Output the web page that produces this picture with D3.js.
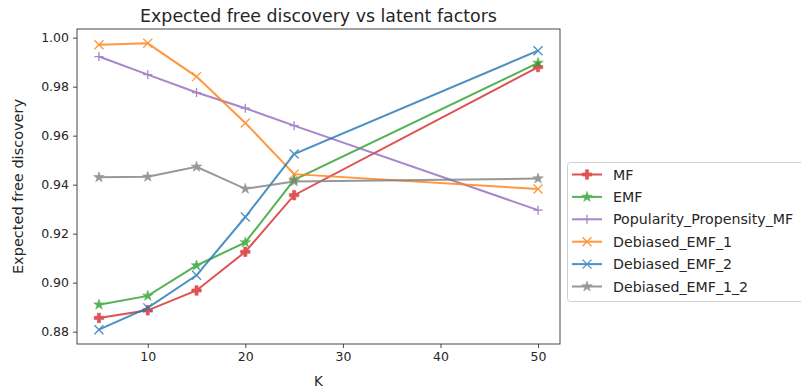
<!DOCTYPE html>
<html>
<head>
<meta charset="utf-8">
<script src="https://cdn.jsdelivr.net/npm/d3@7"></script>
<style>
  body { margin: 0; background: #fff; }
  svg { display: block; font-family: "DejaVu Sans", sans-serif; }
</style>
</head>
<body>
<svg id="chart" width="801" height="390"></svg>
<script>
// Latent factor counts
const kValues = [5, 10, 15, 20, 25, 50];

// Expected free discovery per model
const seriesNames = ["MF", "EMF", "Popularity_Propensity_MF", "Debiased_EMF_1", "Debiased_EMF_2", "Debiased_EMF_1_2"];
const mfValues = [0.8856, 0.8887, 0.8968, 0.9126, 0.9357, 0.9880];
const emfValues = [0.8910, 0.8946, 0.9070, 0.9164, 0.9420, 0.9897];
const popValues = [0.9923, 0.9849, 0.9776, 0.9712, 0.9641, 0.9296];
const deb1Values = [0.9971, 0.9977, 0.9841, 0.9652, 0.9443, 0.9382];
const deb2Values = [0.8808, 0.8897, 0.9030, 0.9268, 0.9525, 0.9947];
const deb12Values = [0.9430, 0.9432, 0.9473, 0.9383, 0.9413, 0.9425];

const yTicks = [0.88, 0.90, 0.92, 0.94, 0.96, 0.98, 1.00];
const xTicks = [10, 20, 30, 40, 50];

const colors = ["#d62728", "#2ca02c", "#9467bd", "#ff7f0e", "#1f77b4", "#7f7f7f"];
const markers = ["P", "star", "plus", "x", "x", "star"];
const allValues = [mfValues, emfValues, popValues, deb1Values, deb2Values, deb12Values];

const series = seriesNames.map((name, i) => ({
  name, color: colors[i], marker: markers[i],
  points: kValues.map((k, j) => ({ k, v: allValues[i][j] }))
}));

const svg = d3.select("#chart");
const plot = { left: 77, right: 560, top: 29, bottom: 344 };

// Axis limits padded by 5% of the data span on each side
const kMin = d3.min(kValues), kMax = d3.max(kValues);
const kPad = (kMax - kMin) * 0.05;
const vAll = allValues.flat();
const vMin = d3.min(vAll), vMax = d3.max(vAll);
const vPad = (vMax - vMin) * 0.05;

const x = d3.scaleLinear().domain([kMin - kPad, kMax + kPad]).range([plot.left, plot.right]);
const y = d3.scaleLinear().domain([vMin - vPad, vMax + vPad]).range([plot.bottom, plot.top]);

const textColor = "#262626";

// Axes
const xAxis = svg.append("g")
  .attr("transform", `translate(0,${plot.bottom})`)
  .call(d3.axisBottom(x).tickValues(xTicks).tickFormat(d3.format("d")).tickSize(4).tickPadding(4));
const yAxis = svg.append("g")
  .attr("transform", `translate(${plot.left},0)`)
  .call(d3.axisLeft(y).tickValues(yTicks).tickFormat(d3.format(".2f")).tickSize(4).tickPadding(4));
[xAxis, yAxis].forEach(g => {
  g.select(".domain").remove();
  g.selectAll("line").attr("stroke", "#333").attr("stroke-width", 0.9);
  g.selectAll("text").attr("fill", textColor).style("font-size", "12.5px").style("font-family", "DejaVu Sans");
});

// Lines
const line = d3.line().x(d => x(d.k)).y(d => y(d.v));
const clipId = "plot-clip";
svg.append("clipPath").attr("id", clipId).append("rect")
  .attr("x", plot.left).attr("y", plot.top)
  .attr("width", plot.right - plot.left).attr("height", plot.bottom - plot.top);

const layer = svg.append("g").attr("clip-path", `url(#${clipId})`);

function drawMarker(g, type, color, cx, cy, s) {
  const r = s / 2;
  if (type === "P") {
    g.append("path")
      .attr("d", d3.symbol().type(d3.symbolCross).size(s * s * 0.62)())
      .attr("transform", `translate(${cx},${cy})`)
      .attr("fill", color).attr("stroke", color).attr("stroke-width", 0.6);
  } else if (type === "star") {
    g.append("path")
      .attr("d", d3.symbol().type(d3.symbolStar).size(s * s * 0.42)())
      .attr("transform", `translate(${cx},${cy})`)
      .attr("fill", color).attr("stroke", color).attr("stroke-width", 0.6);
  } else if (type === "plus") {
    g.append("path")
      .attr("d", `M${cx - r},${cy}L${cx + r},${cy}M${cx},${cy - r}L${cx},${cy + r}`)
      .attr("stroke", color).attr("stroke-width", 1.3).attr("fill", "none");
  } else if (type === "x") {
    g.append("path")
      .attr("d", `M${cx - r},${cy - r}L${cx + r},${cy + r}M${cx - r},${cy + r}L${cx + r},${cy - r}`)
      .attr("stroke", color).attr("stroke-width", 1.3).attr("fill", "none");
  }
}

series.forEach(s => {
  const g = layer.append("g").attr("opacity", 0.8);
  g.append("path").datum(s.points)
    .attr("d", line).attr("fill", "none")
    .attr("stroke", s.color).attr("stroke-width", 2);
  s.points.forEach(p => drawMarker(g, s.marker, s.color, x(p.k), y(p.v), 9));
});

// Frame
svg.append("rect")
  .attr("x", plot.left).attr("y", plot.top)
  .attr("width", plot.right - plot.left).attr("height", plot.bottom - plot.top)
  .attr("fill", "none").attr("stroke", "#333").attr("stroke-width", 0.9);

// Title and axis labels
svg.append("text")
  .attr("x", (plot.left + plot.right) / 2).attr("y", 21.5)
  .attr("text-anchor", "middle").attr("fill", textColor)
  .style("font-size", "17.4px")
  .text("Expected free discovery vs latent factors");

svg.append("text")
  .attr("x", (plot.left + plot.right) / 2).attr("y", 386)
  .attr("text-anchor", "middle").attr("fill", textColor)
  .style("font-size", "13.5px")
  .text("K");

svg.append("text")
  .attr("transform", `translate(23,${(plot.top + plot.bottom) / 2}) rotate(-90)`)
  .attr("text-anchor", "middle").attr("fill", textColor)
  .style("font-size", "14.5px")
  .text("Expected free discovery");

// Legend
const legend = svg.append("g");
legend.append("rect")
  .attr("x", 567.5).attr("y", 162.5).attr("width", 240).attr("height", 139)
  .attr("rx", 3).attr("fill", "#fff").attr("stroke", "#d0d0d0").attr("stroke-width", 1);

series.forEach((s, i) => {
  const cy = 174.5 + i * 22.4;
  const g = legend.append("g").attr("opacity", 0.8);
  g.append("line")
    .attr("x1", 572).attr("x2", 602).attr("y1", cy).attr("y2", cy)
    .attr("stroke", s.color).attr("stroke-width", 2);
  drawMarker(g, s.marker, s.color, 587, cy, 9);
  legend.append("text")
    .attr("x", 613).attr("y", cy).attr("dy", "0.36em")
    .attr("fill", textColor).style("font-size", "14.2px")
    .text(s.name);
});
</script>
</body>
</html>
